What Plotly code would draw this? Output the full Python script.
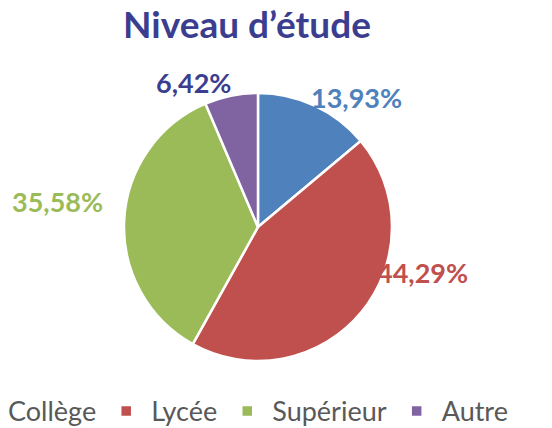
import plotly.graph_objects as go

categories = ["Collège", "Lycée", "Supérieur", "Autre"]
values = [13.93, 44.29, 35.58, 6.42]
colors = ["#4F81BD", "#C0504D", "#9BBB59", "#8064A2"]
label_colors = ["#4F81BD", "#C0504D", "#9BBB59", "#3B3E8F"]
# label anchor positions (paper coords) for the outside percentage labels
label_pos = [(0.6467, 0.7454), (0.7645, 0.2898), (0.1033, 0.4726), (0.3505, 0.7859)]

FONT = "Lato"

fig = go.Figure(go.Pie(
    labels=categories,
    values=values,
    sort=False,
    direction="clockwise",
    rotation=0,
    marker=dict(colors=colors, line=dict(color="white", width=2.5)),
    textinfo="none",
    hoverinfo="label+percent",
    domain=dict(x=[0.2246, 0.7101], y=[0.0574, 0.7572]),
))

annotations = []
for v, c, (x, y) in zip(values, label_colors, label_pos):
    annotations.append(dict(
        x=x, y=y, xref="paper", yref="paper",
        text=f"<b>{v:.2f}%</b>".replace(".", ","),
        showarrow=False, font=dict(family=FONT, size=27, color=c),
        xanchor="center", yanchor="middle",
    ))

fig.update_layout(
    width=552, height=428,
    paper_bgcolor="white", plot_bgcolor="white",
    margin=dict(l=0, r=0, t=0, b=45, autoexpand=False),
    title=dict(text="<b>Niveau d’étude</b>", x=0.4475, xanchor="center",
               y=0.9416, yanchor="middle",
               font=dict(family=FONT, size=37, color="#3B3E8F")),
    annotations=annotations,
    legend=dict(orientation="h", x=-0.076, xanchor="left", y=-0.01, yanchor="top",
                font=dict(family=FONT, size=27, color="#595959"),
                itemwidth=40, traceorder="normal"),
    showlegend=True,
)

fig.write_html("out.html", config={"displayModeBar": False},
               post_script="document.body.style.margin='0';")
